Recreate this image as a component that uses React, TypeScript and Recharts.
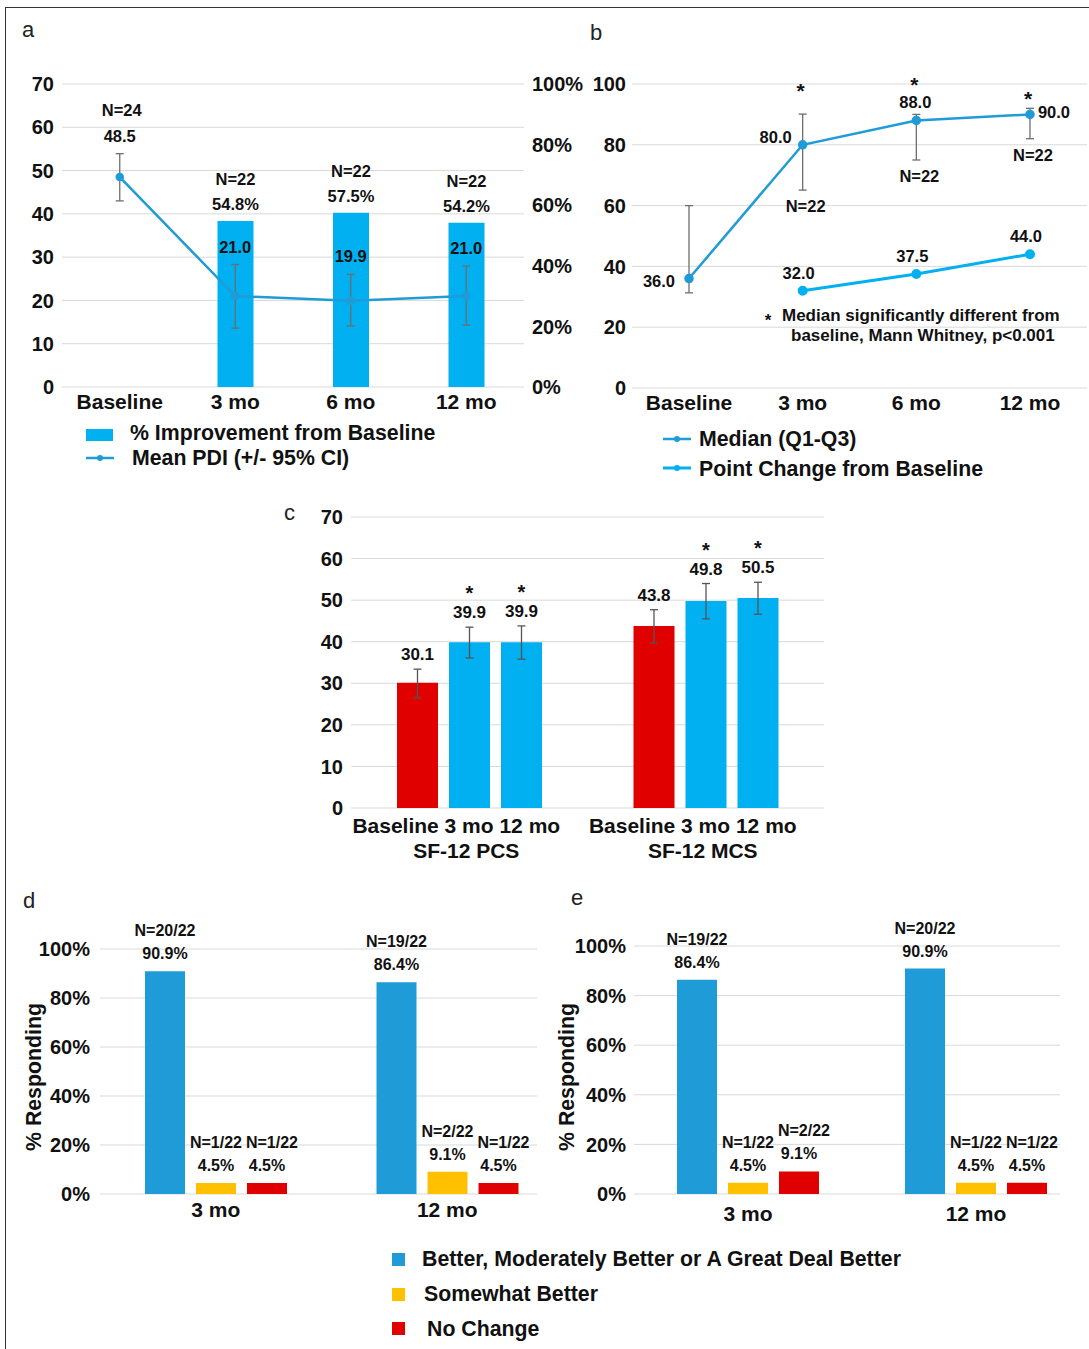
import React from "react";
import {
  ComposedChart,
  LineChart,
  BarChart,
  Bar,
  Line,
  XAxis,
  YAxis,
  CartesianGrid,
  ErrorBar,
  LabelList,
} from "recharts";

const FONT = "'Liberation Sans', Arial, Helvetica, sans-serif";
const INK = "#111111";
const GRID = "#d9d9d9";
const CYAN = "#00b0f0";
const BLUE = "#1f9bd7";
const YELLOW = "#ffc000";
const RED = "#e00000";
const WHISKER = "#6e6e6e";

// a: mean PDI and % improvement
const timepoints = ["Baseline", "3 mo", "6 mo", "12 mo"];
const pdiMean = [48.5, 21.0, 19.9, 21.0];
const pdiLow = [43.0, 13.6, 14.1, 14.3];
const pdiHigh = [53.9, 28.3, 26.0, 27.9];
const pdiImprovement = [null, 54.8, 57.5, 54.2];
const pdiN = [24, 22, 22, 22];

// b: median (Q1-Q3) and point change
const scoreMedian = [36.0, 80.0, 88.0, 90.0];
const scoreQ1 = [31.3, 65.1, 75.0, 82.0];
const scoreQ3 = [60.0, 90.1, 90.0, 92.0];
const pointChange = [null, 32.0, 37.5, 44.0];
const scoreN = [null, 22, 22, 22];
const scoreSignificant = [false, true, true, true];

// c: SF-12
const sfScales = ["SF-12 PCS", "SF-12 MCS"];
const sfVisitLabel = "Baseline 3 mo 12 mo";
const sfBaseline = [30.1, 43.8];
const sfBaselineLow = [26.5, 39.7];
const sfBaselineHigh = [33.4, 47.7];
const sf3mo = [39.9, 49.8];
const sf3moLow = [36.1, 45.5];
const sf3moHigh = [43.5, 54.0];
const sf12mo = [39.9, 50.5];
const sf12moLow = [35.8, 46.6];
const sf12moHigh = [43.8, 54.3];

// d, e: % responding
const pgicVisits = ["3 mo", "12 mo"];
const pgicTotal = 22;
const dBetterPct = [90.9, 86.4];
const dBetterN = [20, 19];
const dSomewhatPct = [4.5, 9.1];
const dSomewhatN = [1, 2];
const dNoChangePct = [4.5, 4.5];
const dNoChangeN = [1, 1];
const eBetterPct = [86.4, 90.9];
const eBetterN = [19, 20];
const eSomewhatPct = [4.5, 4.5];
const eSomewhatN = [1, 1];
const eNoChangePct = [9.1, 4.5];
const eNoChangeN = [2, 1];

const dataA = timepoints.map((name, i) => ({
  name,
  mean: pdiMean[i],
  ci: [pdiMean[i] - pdiLow[i], pdiHigh[i] - pdiMean[i]],
  ciTop: pdiHigh[i],
  improvement: pdiImprovement[i],
  nText: `N=${pdiN[i]}`,
}));

const dataB = timepoints.map((name, i) => ({
  name,
  median: scoreMedian[i],
  iqr: [scoreMedian[i] - scoreQ1[i], scoreQ3[i] - scoreMedian[i]],
  q1: scoreQ1[i],
  q3: scoreQ3[i],
  change: pointChange[i],
}));

const dataC = sfScales.map((name, i) => ({
  name,
  base: sfBaseline[i],
  baseErr: [sfBaseline[i] - sfBaselineLow[i], sfBaselineHigh[i] - sfBaseline[i]],
  m3: sf3mo[i],
  m3Err: [sf3mo[i] - sf3moLow[i], sf3moHigh[i] - sf3mo[i]],
  m12: sf12mo[i],
  m12Err: [sf12mo[i] - sf12moLow[i], sf12moHigh[i] - sf12mo[i]],
}));

const pgicTable = (better: number[], somewhat: number[], none: number[], bN: number[], sN: number[], nN: number[]) =>
  pgicVisits.map((name, i) => ({
    name,
    better: better[i],
    somewhat: somewhat[i],
    none: none[i],
    betterN: `N=${bN[i]}/${pgicTotal}`,
    somewhatN: `N=${sN[i]}/${pgicTotal}`,
    noneN: `N=${nN[i]}/${pgicTotal}`,
  }));

const dataD = pgicTable(dBetterPct, dSomewhatPct, dNoChangePct, dBetterN, dSomewhatN, dNoChangeN);
const dataE = pgicTable(eBetterPct, eSomewhatPct, eNoChangePct, eBetterN, eSomewhatN, eNoChangeN);

const tickY = { fill: INK, fontSize: 20, fontWeight: 700, fontFamily: FONT };
const tickX = { ...tickY, fontSize: 21 };
const txt = { fontFamily: FONT, fontWeight: 700, fill: INK, textAnchor: "middle" as const };

// label geometry from whatever the LabelList hands over
function box(p: any) {
  const vb = p.viewBox || {};
  const x = vb.x ?? p.x ?? 0;
  const y = vb.y ?? p.y ?? 0;
  const w = vb.width ?? p.width ?? 0;
  const h = vb.height ?? p.height ?? 0;
  return { cx: x + (w || 0) / 2, y, h };
}

const trimmedGrid = (trim: number) => (p: any) =>
  <line key={p.key} x1={p.x1} y1={p.y1} x2={p.x2 - trim} y2={p.y2} stroke={GRID} strokeWidth={1} />;

// text a fixed distance above the top of a mark
const aboveLabel = (dy: number, size: number, fmt: (v: any) => string, dx = 0) => (p: any) => {
  if (p.value == null) return null;
  const { cx, y } = box(p);
  return <text x={cx + dx} y={y - dy} fontSize={size} {...txt}>{fmt(p.value)}</text>;
};

// ---------- a ----------
const meanLabel = (p: any) => {
  const { cx, y } = box(p);
  const i = p.index;
  return (
    <g>
      {pdiImprovement[i] == null && (
        <text x={cx + 2} y={y - 38} fontSize={16.5} {...txt}>{`N=${pdiN[i]}`}</text>
      )}
      <text x={cx} y={y - 12} fontSize={16.5} {...txt}>{Number(p.value).toFixed(1)}</text>
    </g>
  );
};

const PanelA = () => (
  <div style={{ position: "absolute", left: 0, top: 0 }}>
    <ComposedChart width={584} height={423} data={dataA} margin={{ top: 84, right: 0, bottom: 0, left: 0 }}>
      <CartesianGrid vertical={false} stroke={GRID} yAxisId="l" />
      <XAxis dataKey="name" axisLine={false} tickLine={false} tick={tickX} height={36} tickMargin={1} interval={0} />
      <YAxis yAxisId="l" domain={[0, 70]} ticks={[0, 10, 20, 30, 40, 50, 60, 70]} axisLine={false} tickLine={false} width={62} tickMargin={2} tick={tickY} />
      <YAxis yAxisId="r" orientation="right" domain={[0, 100]} ticks={[0, 20, 40, 60, 80, 100]} tickFormatter={(v) => `${v}%`} axisLine={false} tickLine={false} width={60} tick={tickY} />
      <Bar yAxisId="r" dataKey="improvement" fill={CYAN} barSize={36} isAnimationActive={false}>
        <LabelList dataKey="improvement" content={aboveLabel(11, 16.5, (v) => `${Number(v).toFixed(1)}%`)} />
        <LabelList dataKey="nText" content={aboveLabel(36, 16.5, (v) => String(v))} />
      </Bar>
      <Line yAxisId="l" dataKey="mean" stroke={BLUE} strokeWidth={2.5} dot={{ r: 3, fill: BLUE, stroke: BLUE }} isAnimationActive={false}>
        <ErrorBar dataKey="ci" width={4} stroke={WHISKER} strokeWidth={1.3} />
      </Line>
      <Line yAxisId="l" dataKey="ciTop" stroke="none" dot={false} activeDot={false} isAnimationActive={false}>
        <LabelList dataKey="mean" content={meanLabel} />
      </Line>
    </ComposedChart>
  </div>
);

// ---------- b ----------
const medianDx = [-30, -27, -1, 24];
const medianDy = [8, -2, -12, 4];
const starDy = [0, -16, -22, -2];

const medianLabel = (p: any) => {
  const { cx, y } = box(p);
  const i = p.index;
  return (
    <text x={cx + medianDx[i]} y={y + medianDy[i]} fontSize={16.5} {...txt}>
      {Number(p.value).toFixed(1)}
    </text>
  );
};

const changeLabel = (p: any) => {
  if (p.value == null) return null;
  const { cx, y } = box(p);
  return (
    <text x={cx - 4} y={y - 12} fontSize={16.5} {...txt}>{Number(p.value).toFixed(1)}</text>
  );
};

const starLabel = (p: any) => {
  const i = p.index;
  if (!scoreSignificant[i]) return null;
  const { cx, y } = box(p);
  return (
    <text x={cx - 2} y={y + starDy[i]} fontSize={21} {...txt}>*</text>
  );
};

const nLabelB = (p: any) => {
  const i = p.index;
  if (scoreN[i] == null) return null;
  const { cx, y } = box(p);
  return (
    <text x={cx + 3} y={y + 22} fontSize={16.5} {...txt}>{`N=${scoreN[i]}`}</text>
  );
};

const PanelB = () => (
  <div style={{ position: "absolute", left: 582, top: 0 }}>
    <LineChart width={507} height={425} data={dataB} margin={{ top: 84, right: 2, bottom: 0, left: 0 }}>
      <CartesianGrid vertical={false} stroke={GRID} />
      <XAxis dataKey="name" scale="point" padding={{ left: 57, right: 57 }} axisLine={false} tickLine={false} tick={tickX} height={37} tickMargin={1} interval={0} />
      <YAxis domain={[0, 100]} ticks={[0, 20, 40, 60, 80, 100]} axisLine={false} tickLine={false} width={50} tickMargin={0} tick={tickY} />
      <Line dataKey="median" stroke={BLUE} strokeWidth={2.5} dot={{ r: 3.5, fill: BLUE, stroke: BLUE }} isAnimationActive={false}>
        <ErrorBar dataKey="iqr" width={4} stroke={WHISKER} strokeWidth={1.3} />
        <LabelList dataKey="median" content={medianLabel} />
      </Line>
      <Line dataKey="change" stroke={CYAN} strokeWidth={3} dot={{ r: 3.5, fill: CYAN, stroke: CYAN }} isAnimationActive={false}>
        <LabelList dataKey="change" content={changeLabel} />
      </Line>
      <Line dataKey="q3" stroke="none" dot={false} activeDot={false} isAnimationActive={false}>
        <LabelList dataKey="q3" content={starLabel} />
      </Line>
      <Line dataKey="q1" stroke="none" dot={false} activeDot={false} isAnimationActive={false}>
        <LabelList dataKey="q1" content={nLabelB} />
      </Line>
    </LineChart>
  </div>
);

// ---------- c ----------
const sfLabel = (highs: number[], starred: boolean) => (p: any) => {
  const { cx, y, h } = box(p);
  const v = Number(p.value);
  const top = y - (highs[p.index] - v) * (h / v);
  return (
    <g>
      <text x={cx} y={top - 9} fontSize={17} {...txt}>{v.toFixed(1)}</text>
      {starred && <text x={cx} y={top - 27} fontSize={20} {...txt}>*</text>}
    </g>
  );
};

const sfTick = (p: any) => (
  <g transform={`translate(${p.x},${p.y})`}>
    <text x={-13} y={17} fontSize={21} {...txt}>{sfVisitLabel}</text>
    <text x={-3} y={42} fontSize={21} {...txt}>{p.payload.value}</text>
  </g>
);

const PanelC = () => (
  <div style={{ position: "absolute", left: 301, top: 480 }}>
    <BarChart width={533} height={388} data={dataC} margin={{ top: 37, right: 10, bottom: 0, left: 0 }} barSize={41} barGap={11}>
      <CartesianGrid vertical={false} stroke={GRID} />
      <XAxis dataKey="name" axisLine={false} tickLine={false} tick={sfTick} height={60} interval={0} />
      <YAxis domain={[0, 70]} ticks={[0, 10, 20, 30, 40, 50, 60, 70]} axisLine={false} tickLine={false} width={50} tick={tickY} />
      <Bar dataKey="base" fill={RED} isAnimationActive={false}>
        <ErrorBar dataKey="baseErr" width={4} stroke="#555" strokeWidth={1.3} />
        <LabelList dataKey="base" content={sfLabel(sfBaselineHigh, false)} />
      </Bar>
      <Bar dataKey="m3" fill={CYAN} isAnimationActive={false}>
        <ErrorBar dataKey="m3Err" width={4} stroke="#555" strokeWidth={1.3} />
        <LabelList dataKey="m3" content={sfLabel(sf3moHigh, true)} />
      </Bar>
      <Bar dataKey="m12" fill={CYAN} isAnimationActive={false}>
        <ErrorBar dataKey="m12Err" width={4} stroke="#555" strokeWidth={1.3} />
        <LabelList dataKey="m12" content={sfLabel(sf12moHigh, true)} />
      </Bar>
    </BarChart>
  </div>
);

// ---------- d, e ----------
const pctLabel = aboveLabel(12, 16, (v) => `${Number(v).toFixed(1)}%`);
const countLabel = aboveLabel(35, 16, (v) => String(v));
const countLabelRight = aboveLabel(35, 16, (v) => String(v), 5);

type PgicProps = {
  left: number;
  width: number;
  marginTop: number;
  axisWidth: number;
  tickMargin: number;
  xTickMargin: number;
  trim: number;
  data: any[];
};

const PgicPanel = ({ left, width, marginTop, axisWidth, tickMargin, xTickMargin, trim, data }: PgicProps) => (
  <div style={{ position: "absolute", left, top: 880 }}>
    <BarChart width={width} height={349} data={data} margin={{ top: marginTop, right: 0, bottom: 0, left: 0 }} barSize={40} barGap={11}>
      <CartesianGrid vertical={false} horizontal={trimmedGrid(trim)} />
      <XAxis dataKey="name" axisLine={false} tickLine={false} tick={tickX} height={35} tickMargin={xTickMargin} interval={0} />
      <YAxis domain={[0, 100]} ticks={[0, 20, 40, 60, 80, 100]} tickFormatter={(v) => `${v}%`} axisLine={false} tickLine={false} width={axisWidth} tickMargin={tickMargin} tick={tickY} />
      <Bar dataKey="better" fill={BLUE} isAnimationActive={false}>
        <LabelList dataKey="better" content={pctLabel} />
        <LabelList dataKey="betterN" content={countLabel} />
      </Bar>
      <Bar dataKey="somewhat" fill={YELLOW} isAnimationActive={false}>
        <LabelList dataKey="somewhat" content={pctLabel} />
        <LabelList dataKey="somewhatN" content={countLabel} />
      </Bar>
      <Bar dataKey="none" fill={RED} isAnimationActive={false}>
        <LabelList dataKey="none" content={pctLabel} />
        <LabelList dataKey="noneN" content={countLabelRight} />
      </Bar>
    </BarChart>
  </div>
);

const legendText = { fontFamily: FONT, fontWeight: 700, fill: INK, fontSize: 21.3 };
const letter = { fontFamily: FONT, fill: "#222", fontSize: 22 };

const Overlay = () => (
  <svg width={1089} height={1349} style={{ position: "absolute", left: 0, top: 0, pointerEvents: "none" }}>
    <text x={22} y={37} {...letter}>a</text>
    <text x={590} y={40} {...letter}>b</text>
    <text x={284} y={520} {...letter}>c</text>
    <text x={23} y={908} {...letter}>d</text>
    <text x={571} y={905} {...letter}>e</text>

    <rect x={86} y={429} width={27} height={12} fill={CYAN} />
    <text x={130} y={440} {...legendText}>% Improvement from Baseline</text>
    <line x1={86} x2={114} y1={458} y2={458} stroke={BLUE} strokeWidth={2.5} />
    <circle cx={100} cy={458} r={3} fill={BLUE} />
    <text x={132} y={465} {...legendText}>Mean PDI (+/- 95% CI)</text>

    <line x1={663} x2={691} y1={439} y2={439} stroke={BLUE} strokeWidth={2.5} />
    <circle cx={677} cy={439} r={3} fill={BLUE} />
    <text x={699} y={446} {...legendText}>Median (Q1-Q3)</text>
    <line x1={663} x2={691} y1={468} y2={468} stroke={CYAN} strokeWidth={3} />
    <circle cx={677} cy={468} r={3} fill={CYAN} />
    <text x={699} y={476} {...legendText}>Point Change from Baseline</text>

    <text x={768} y={326} fontSize={17} {...txt}>*</text>
    <text x={782} y={321} fontSize={17} fontFamily={FONT} fontWeight={700} fill={INK}>Median significantly different from</text>
    <text x={791} y={341} fontSize={17} fontFamily={FONT} fontWeight={700} fill={INK}>baseline, Mann Whitney, p&lt;0.001</text>

    <text transform="translate(33,1077) rotate(-90)" dy="0.36em" textAnchor="middle" {...legendText}>% Responding</text>
    <text transform="translate(566,1077) rotate(-90)" dy="0.36em" textAnchor="middle" {...legendText}>% Responding</text>

    <rect x={392} y={1253} width={13} height={13} fill={BLUE} />
    <text x={422} y={1266} {...legendText}>Better, Moderately Better or A Great Deal Better</text>
    <rect x={392} y={1288} width={13} height={13} fill={YELLOW} />
    <text x={424} y={1301} {...legendText}>Somewhat Better</text>
    <rect x={392} y={1322} width={13} height={13} fill={RED} />
    <text x={427} y={1336} {...legendText}>No Change</text>
  </svg>
);

export default function App() {
  return (
    <div style={{ position: "absolute", left: 0, top: 0, width: 1089, height: 1349, overflow: "hidden", background: "#fff" }}>
      <div style={{ position: "absolute", left: 5, top: 7, width: 1200, height: 1400, border: "1.5px solid #333" }} />
      <PanelA />
      <PanelB />
      <PanelC />
      <PgicPanel left={0} width={563} marginTop={69} axisWidth={100} tickMargin={4} xTickMargin={2} trim={26} data={dataD} />
      <PgicPanel left={554} width={536} marginTop={66} axisWidth={80} tickMargin={2} xTickMargin={6} trim={30} data={dataE} />
      <Overlay />
    </div>
  );
}
